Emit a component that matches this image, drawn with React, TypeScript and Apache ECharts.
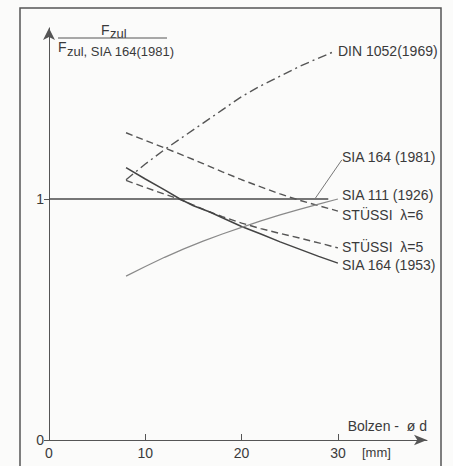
import React, { useEffect, useRef } from "react";
import * as echarts from "echarts";

// d [mm] -> F_zul / F_zul,SIA164(1981)
const sia1981: number[][] = [[0, 1], [29, 1]];
const sia1981Leader: number[][] = [[27.6, 1.0], [30.4, 1.162]];
const din1052: number[][] = [[8, 1.08], [10, 1.145], [12, 1.205], [14, 1.26], [16, 1.315], [18, 1.37], [20, 1.425], [22, 1.47], [24, 1.51], [26, 1.55], [28, 1.585], [29.5, 1.61]];
const stuessi6: number[][] = [[8, 1.275], [10, 1.243], [12, 1.212], [14, 1.18], [16, 1.147], [18, 1.113], [20, 1.08], [22, 1.05], [24, 1.021], [26, 0.995], [28, 0.972], [30, 0.95]];
const stuessi5: number[][] = [[8, 1.077], [10, 1.048], [12, 1.02], [13.5, 1.0], [15, 0.975], [16.7, 0.946], [18, 0.927], [20, 0.9], [22, 0.877], [24, 0.857], [26, 0.838], [28, 0.818], [30, 0.797]];
const sia1953: number[][] = [[8, 1.13], [10, 1.083], [12, 1.038], [13.6, 1.0], [15, 0.972], [16.7, 0.946], [18, 0.922], [20, 0.886], [22, 0.855], [24, 0.822], [26, 0.792], [28, 0.762], [30, 0.734]];
const sia1926: number[][] = [[8, 0.68], [10, 0.72], [12, 0.758], [14, 0.793], [16, 0.825], [18, 0.855], [20, 0.882], [22, 0.909], [24, 0.934], [26, 0.957], [28, 0.979], [30, 1.0]];

const xTicks = [0, 10, 20, 30];
const yTicks = [0, 1];

const labels = [
  { text: "DIN 1052(1969)", x: 338, y: 51 },
  { text: "SIA 164 (1981)", x: 342, y: 157 },
  { text: "SIA 111 (1926)", x: 342, y: 195 },
  { text: "STÜSSI  λ=6", x: 342, y: 215 },
  { text: "STÜSSI  λ=5", x: 342, y: 247 },
  { text: "SIA 164 (1953)", x: 342, y: 265 },
];

const FONT = "'Liberation Sans', Arial, sans-serif";
const TXT = "#3a3a3a";

export default function App() {
  const ref = useRef<HTMLDivElement>(null);
  useEffect(() => {
    if (!ref.current) return;
    const chart = echarts.init(ref.current, undefined, { renderer: "svg" });
    const lineSeries = (name: string, data: number[][], color: string, width: number, type: any) => ({
      name,
      type: "line",
      data,
      showSymbol: false,
      smooth: false,
      lineStyle: { color, width, type },
      silent: true,
      z: 3,
    });
    chart.setOption({
      animation: false,
      backgroundColor: "#fbfbfa",
      grid: { left: 49, top: 27.9, width: 378, height: 412.1, containLabel: false },
      xAxis: {
        type: "value",
        min: 0,
        max: 39.25,
        interval: 10,
        splitLine: { show: false },
        axisLine: {
          show: true,
          symbol: ["none", "arrow"],
          symbolSize: [8, 13],
          lineStyle: { color: "#555", width: 1 },
        },
        axisTick: { show: true, inside: true, length: 6, lineStyle: { color: "#555" } },
        axisLabel: {
          showMaxLabel: false,
          margin: 6,
          color: TXT,
          fontFamily: FONT,
          fontSize: 14,
          formatter: (v: number) => (xTicks.indexOf(v) >= 0 ? String(v) : ""),
        },
      },
      yAxis: {
        type: "value",
        min: 0,
        max: 1.71,
        interval: 1,
        splitLine: { show: false },
        axisLine: {
          show: true,
          symbol: ["none", "arrow"],
          symbolSize: [9, 12],
          lineStyle: { color: "#555", width: 1 },
        },
        axisTick: { show: true, inside: false, length: 5, lineStyle: { color: "#555" } },
        axisLabel: {
          showMaxLabel: false,
          margin: 5,
          color: TXT,
          fontFamily: FONT,
          fontSize: 14,
          formatter: (v: number) => (yTicks.indexOf(v) >= 0 ? String(v) : ""),
        },
      },
      series: [
        lineSeries("SIA 164 (1981)", sia1981, "#4a4a4a", 1.6, "solid"),
        lineSeries("leader", sia1981Leader, "#777", 1, "solid"),
        lineSeries("DIN 1052(1969)", din1052, "#555", 1.4, [9, 4, 2, 4]),
        lineSeries("STÜSSI λ=6", stuessi6, "#555", 1.4, [7, 4]),
        lineSeries("STÜSSI λ=5", stuessi5, "#555", 1.4, [7, 4]),
        lineSeries("SIA 164 (1953)", sia1953, "#444", 1.5, "solid"),
        lineSeries("SIA 111 (1926)", sia1926, "#8a8a8a", 1.2, "solid"),
      ],
      graphic: [
        {
          type: "rect",
          shape: { x: 20, y: 8, width: 421, height: 480 },
          style: { fill: "none", stroke: "#555", lineWidth: 1.5 },
          silent: true,
        },
        ...labels.map((l) => ({
          type: "text",
          x: l.x,
          y: l.y,
          style: { text: l.text, fill: TXT, font: `14px ${FONT}`, textVerticalAlign: "middle", textAlign: "left" },
          silent: true,
        })),
        // y-axis title as a fraction
        { type: "text", x: 101, y: 30, style: { text: "F", fill: TXT, font: `14px ${FONT}`, textVerticalAlign: "middle" } },
        { type: "text", x: 110, y: 33, style: { text: "zul", fill: TXT, font: `13px ${FONT}`, textVerticalAlign: "middle" } },
        { type: "line", shape: { x1: 58, y1: 38, x2: 167, y2: 38 }, style: { stroke: "#555", lineWidth: 1 } },
        { type: "text", x: 58, y: 47, style: { text: "F", fill: TXT, font: `14px ${FONT}`, textVerticalAlign: "middle" } },
        { type: "text", x: 67, y: 51, style: { text: "zul, SIA 164(1981)", fill: TXT, font: `13px ${FONT}`, textVerticalAlign: "middle" } },
        // x-axis name and unit
        { type: "text", x: 427, y: 426, style: { text: "Bolzen -  ø d", fill: TXT, font: `14px ${FONT}`, textAlign: "right", textVerticalAlign: "middle" } },
        { type: "text", x: 362, y: 452, style: { text: "[mm]", fill: TXT, font: `13px ${FONT}`, textVerticalAlign: "middle" } },
      ],
    });
    return () => chart.dispose();
  }, []);
  return <div ref={ref} style={{ position: "absolute", left: 0, top: 0, width: 453, height: 466 }} />;
}
